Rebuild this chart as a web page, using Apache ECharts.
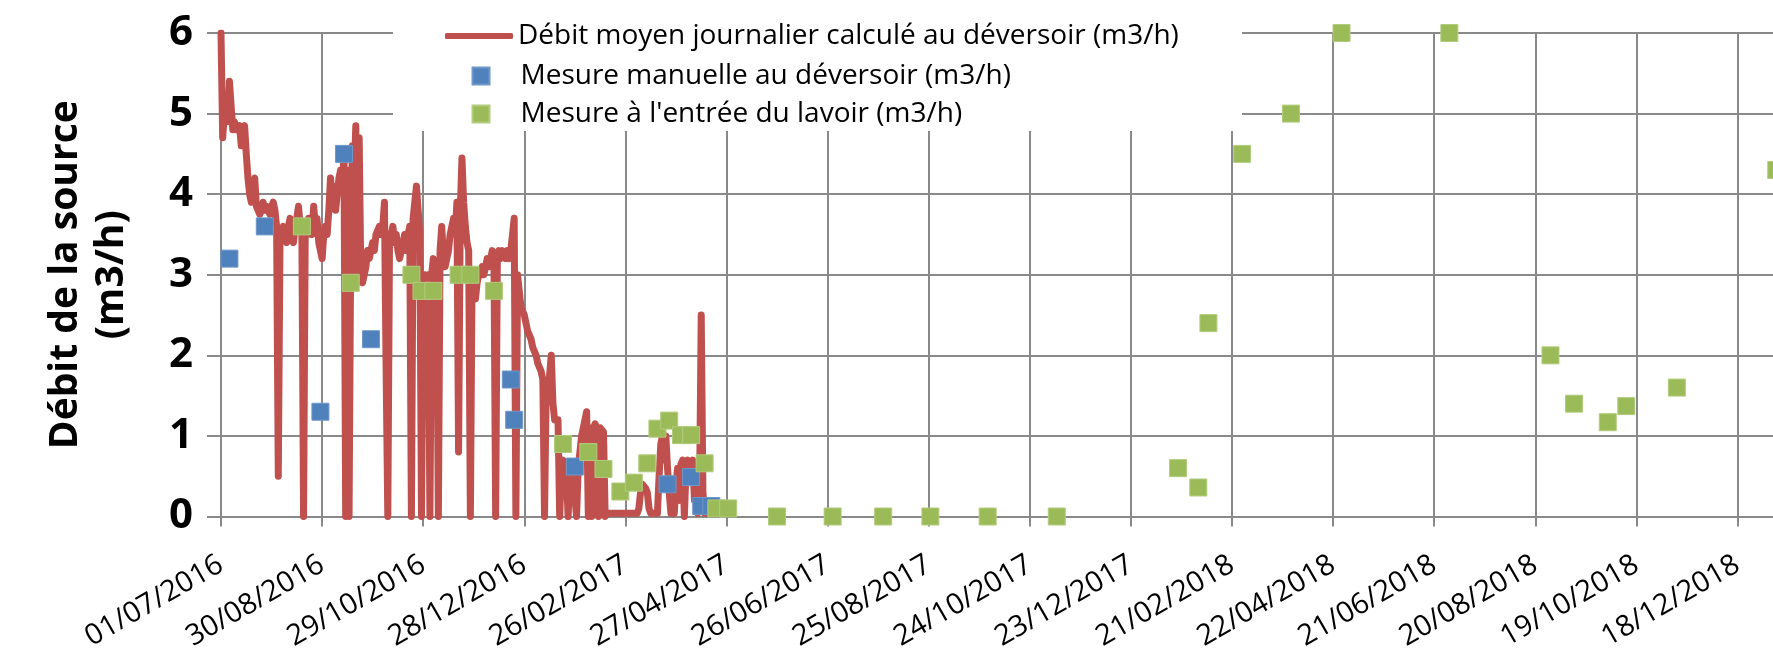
<!DOCTYPE html>
<html>
<head>
<meta charset="utf-8">
<script src="https://cdn.jsdelivr.net/npm/echarts@6/dist/echarts.min.js"></script>
<style>
  html, body { margin: 0; padding: 0; background: #fff; }
  #chart { width: 1773px; height: 652px; }
</style>
</head>
<body>
<div id="chart"></div>
<script>
// Daily mean flow at the weir, one value per day from startDate (m3/h)
const startDate = '2016-07-01';
const dailyFlow = [
  6.0, 4.7, 5.0, 5.2, 4.9, 5.4, 5.1, 4.8, 4.9, 4.8,
  4.8, 4.85, 4.6, 4.8, 4.85, 4.5, 4.2, 4.0, 3.9, 4.15,
  4.2, 3.85, 3.8, 3.75, 3.8, 3.9, 3.8, 3.85, 3.8, 3.75,
  3.85, 3.9, 3.8, 3.6, 0.5, 3.4, 3.5, 3.6, 3.5, 3.4,
  3.6, 3.7, 3.5, 3.4, 3.6, 3.7, 3.85, 3.6, 3.5, 0,
  3.6, 3.5, 3.7, 3.6, 3.5, 3.85, 3.6, 3.7, 3.4, 3.3,
  3.2, 3.5, 3.6, 3.5, 3.8, 4.2, 3.9, 4.1, 3.8, 4.0,
  4.2, 4.3, 4.1, 4.5, 0, 4.3, 0, 3.4, 4.6, 4.2,
  4.85, 2.9, 4.7, 3.0, 2.9, 3.0, 3.1, 3.3, 3.2, 3.3,
  3.4, 3.3, 3.5, 3.5, 3.6, 3.5, 3.6, 3.9, 1.8, 0,
  3.4, 3.5, 3.6, 3.4, 3.5, 3.3, 3.2, 3.3, 3.4, 3.5,
  3.3, 3.5, 3.6, 0, 3.7, 3.9, 4.1, 3.8, 3.5, 0,
  2.9, 3.0, 2.9, 3.0, 0, 3.0, 3.2, 3.1, 3.0, 0,
  3.3, 3.6, 3.2, 3.1, 3.2, 3.3, 3.5, 3.6, 3.7, 3.5,
  3.9, 0.8, 3.8, 4.45, 3.9, 3.6, 3.4, 3.3, 0, 3.0,
  2.9, 2.7, 2.9, 3.0, 3.0, 3.1, 3.0, 3.1, 3.2, 3.1,
  3.2, 3.3, 3.2, 0, 3.2, 3.3, 3.2, 3.3, 3.3, 3.2,
  3.3, 3.2, 3.3, 3.5, 3.7, 0, 3.0, 2.8, 2.6, 2.6,
  2.5, 2.4, 2.3, 2.3, 2.2, 2.1, 2.1, 2.0, 1.9, 1.9,
  1.8, 1.7, 0, 1.6, 1.5, 1.5, 2.0, 1.4, 1.2, 1.2,
  1.2, 0, 0.6, 0.7, 0.6, 0.5, 0, 0.5, 0.6, 0.5,
  0.5, 0, 0.6, 0.8, 1.0, 1.1, 1.2, 1.3, 0, 1.1,
  0, 1.1, 1.15, 1.1, 0, 1.1, 1.1, 1.05, 0, 0.04,
  0.04, 0.04, 0.04, 0.04, 0.04, 0.04, 0.04, 0.04, 0.04, 0.04,
  0.04, 0.04, 0.04, 0.04, 0.04, 0.04, 0.04, 0.04, 0.1, 0.3,
  0.4, 0.4, 0.35, 0.3, 0.1, 0.04, 0.04, 0.04, 0.04, 0.04,
  0.5, 0.9, 1.0, 0.7, 1.0, 0.6, 0.3, 0.04, 0.04, 0.04,
  0.4, 0.6, 0.2, 0.65, 0.7, 0, 0.6, 0.7, 0.65, 0.6,
  0.7, 0.2, 0.6, 0.04, 0.3, 2.5, 0.3, 0.04, 0.04, 0.04,
  0.04, 0.04, 0.04, 0.04, 0.04, 0.04
];

// Manual readings at the weir
const manualDates = [
  '2016-07-06', '2016-07-27', '2016-08-29', '2016-09-12', '2016-09-28', '2016-12-20',
  '2016-12-22', '2017-01-27', '2017-03-23', '2017-04-06', '2017-04-12', '2017-04-18'
];
const manualValues = [3.2, 3.6, 1.3, 4.5, 2.2, 1.7, 1.2, 0.62, 0.4, 0.49, 0.13, 0.13];

// Readings at the inlet of the wash-house
const lavoirDates = [
  '2016-08-18', '2016-09-16', '2016-10-22', '2016-10-28', '2016-11-04', '2016-11-19',
  '2016-11-26', '2016-12-10', '2017-01-20', '2017-02-04', '2017-02-13', '2017-02-23',
  '2017-03-03', '2017-03-11', '2017-03-17', '2017-03-24', '2017-03-31', '2017-04-06',
  '2017-04-14', '2017-04-21', '2017-04-28', '2017-05-27', '2017-06-29', '2017-07-29',
  '2017-08-26', '2017-09-29', '2017-11-09', '2018-01-20', '2018-02-01', '2018-02-07',
  '2018-02-27', '2018-03-28', '2018-04-27', '2018-06-30', '2018-08-29', '2018-09-12',
  '2018-10-02', '2018-10-13', '2018-11-12', '2019-01-10'
];
const lavoirValues = [
  3.6, 2.9, 3.0, 2.8, 2.8, 3.0,
  3.0, 2.8, 0.9, 0.8, 0.59, 0.31,
  0.42, 0.66, 1.09, 1.19, 1.01, 1.01,
  0.66, 0.1, 0.1, 0, 0, 0,
  0, 0, 0, 0.6, 0.36, 2.4,
  4.5, 5.0, 6.0, 6.0, 2.0, 1.4,
  1.17, 1.37, 1.6, 4.3
];

const seriesNames = [
  'Débit moyen journalier calculé au déversoir (m3/h)',
  'Mesure manuelle au déversoir (m3/h)',
  "Mesure à l'entrée du lavoir (m3/h)"
];
const yAxisTitle = 'Débit de la source\n(m3/h)';

const DAY = 86400000;
const t0 = Date.parse(startDate + 'T00:00:00Z');
const dayOf = s => Math.round((Date.parse(s + 'T00:00:00Z') - t0) / DAY);
const pad = n => (n < 10 ? '0' : '') + n;
const fmtDay = v => {
  const d = new Date(t0 + v * DAY);
  return pad(d.getUTCDate()) + '/' + pad(d.getUTCMonth() + 1) + '/' + d.getUTCFullYear();
};

const flowData = dailyFlow.map((v, i) => [i, v]);
const manualData = manualDates.map((s, i) => [dayOf(s), manualValues[i]]);
const lavoirData = lavoirDates.map((s, i) => [dayOf(s), lavoirValues[i]]);

const GRID = '#898989';
const FONT = "'Open Sans', 'Noto Sans', sans-serif";
const DAYS_SHOWN = 960;
const PX_PER_DAY = 101.1 / 60;
const PLOT_LEFT = 221;
const PLOT_WIDTH = DAYS_SHOWN * PX_PER_DAY;

const chart = echarts.init(document.getElementById('chart'), null, { renderer: 'canvas' });

const legendText = { fontFamily: FONT, fontSize: 28, color: '#000', lineHeight: 30 };

chart.setOption({
  animation: false,
  backgroundColor: '#fff',
  grid: {
    left: PLOT_LEFT,
    right: 1773 - PLOT_LEFT - PLOT_WIDTH,
    top: 33,
    bottom: 135.5,
    containLabel: false,
    outerBoundsMode: 'none'
  },
  graphic: [{
    type: 'rect',
    z: 1,
    shape: { x: 393, y: 0, width: 849, height: 131 },
    style: { fill: '#fff' }
  }],
  legend: [
    {
      data: [{ name: seriesNames[0], icon: 'roundRect' }],
      left: 445, top: 21, padding: 0,
      itemWidth: 68, itemHeight: 6,
      textStyle: legendText,
      selectedMode: false
    },
    {
      data: [{ name: seriesNames[1], icon: 'rect' }],
      left: 471.5, top: 61, padding: 0,
      itemWidth: 17, itemHeight: 17,
      textStyle: Object.assign({ padding: [0, 0, 0, 26] }, legendText),
      selectedMode: false
    },
    {
      data: [{ name: seriesNames[2], icon: 'rect' }],
      left: 471.5, top: 99, padding: 0,
      itemWidth: 17, itemHeight: 17,
      textStyle: Object.assign({ padding: [0, 0, 0, 26] }, legendText),
      selectedMode: false
    }
  ],
  xAxis: {
    type: 'value',
    min: 0,
    max: DAYS_SHOWN,
    interval: 60,
    axisLine: { show: true, lineStyle: { color: GRID, width: 2 } },
    axisTick: { show: true, length: 10, lineStyle: { color: GRID, width: 2 } },
    splitLine: { show: true, lineStyle: { color: GRID, width: 2 } },
    axisLabel: {
      rotate: 30,
      margin: 46,
      showMaxLabel: false,
      formatter: fmtDay,
      fontFamily: FONT,
      fontSize: 29,
      color: '#000'
    }
  },
  yAxis: {
    type: 'value',
    min: 0,
    max: 6,
    interval: 1,
    name: yAxisTitle,
    nameLocation: 'middle',
    nameRotate: 90,
    nameGap: 86,
    nameTextStyle: {
      fontFamily: FONT,
      fontWeight: 'bold',
      fontSize: 39,
      lineHeight: 46,
      color: '#000',
      align: 'center'
    },
    axisLine: { show: true, lineStyle: { color: GRID, width: 2 } },
    axisTick: { show: true, length: 14, lineStyle: { color: GRID, width: 2 } },
    splitLine: { show: true, lineStyle: { color: GRID, width: 2 } },
    axisLabel: {
      margin: 28,
      fontFamily: FONT,
      fontWeight: 'bold',
      fontSize: 42,
      color: '#000'
    }
  },
  series: [
    {
      name: seriesNames[0],
      type: 'line',
      data: flowData,
      symbol: 'none',
      showSymbol: false,
      sampling: null,
      lineStyle: { color: '#C0504D', width: 7, join: 'round', cap: 'round' },
      itemStyle: { color: '#C0504D' },
      z: 2
    },
    {
      name: seriesNames[1],
      type: 'scatter',
      data: manualData,
      symbol: 'rect',
      symbolSize: 17,
      itemStyle: { color: '#4F81BD', borderColor: '#6f97c9', borderWidth: 1, opacity: 1 },
      z: 3
    },
    {
      name: seriesNames[2],
      type: 'scatter',
      data: lavoirData,
      symbol: 'rect',
      symbolSize: 17,
      itemStyle: { color: '#9BBB59', borderColor: '#b2cc7d', borderWidth: 1, opacity: 1 },
      z: 3
    }
  ]
});
</script>
</body>
</html>
